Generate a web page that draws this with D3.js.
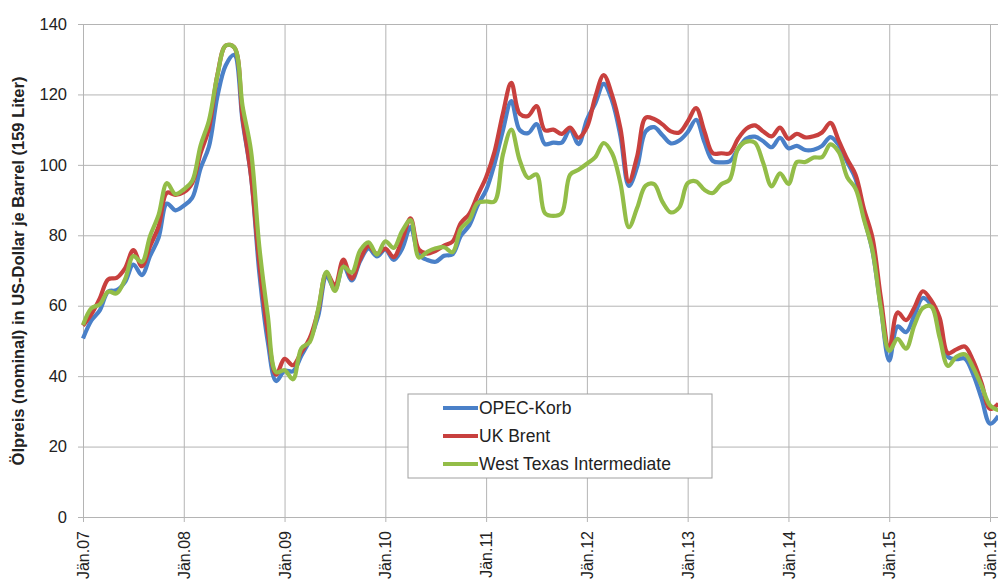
<!DOCTYPE html>
<html>
<head>
<meta charset="utf-8">
<script src="https://cdn.jsdelivr.net/npm/d3@7"></script>
<style>
  body { margin: 0; background: #fff; }
  text { font-family: "Liberation Sans", Arial, sans-serif; fill: #222; }
</style>
</head>
<body>
<script>
// monthly averages, Jan 2007 .. Feb 2016
var opec = [50.7, 55.8, 58.7, 64.0, 64.4, 66.7, 71.7, 68.7, 74.2, 79.3, 89.0, 87.1,
            88.4, 90.6, 99.0, 105.2, 119.4, 128.3, 131.2, 112.4, 96.9, 69.2, 49.8, 38.6,
            41.5, 41.4, 45.8, 50.2, 57.0, 68.4, 64.6, 71.4, 67.2, 72.7, 76.3, 74.0,
            76.0, 73.0, 76.2, 82.3, 74.5, 73.0, 72.5, 74.2, 74.6, 79.9, 82.8, 88.6,
            92.8, 100.3, 109.8, 118.1, 109.9, 109.0, 111.6, 105.9, 106.3, 106.3, 109.9, 105.9,
            112.8, 117.5, 123.0, 118.2, 108.1, 94.0, 99.6, 109.5, 110.7, 108.4, 106.1, 106.9,
            109.3, 112.8, 106.4, 101.1, 100.7, 101.0, 104.5, 107.5, 108.0, 106.7, 105.0, 107.7,
            104.7, 105.4, 104.2, 104.3, 105.4, 107.9, 105.6, 100.8, 96.0, 85.1, 75.6, 59.5,
            44.4, 54.1, 52.5, 57.3, 62.2, 60.2, 54.2, 45.5, 44.8, 45.0, 40.5, 33.6,
            26.5, 28.7];
var brent = [54.3, 57.6, 62.1, 67.5, 67.9, 70.6, 75.8, 71.2, 77.0, 82.5, 92.1, 91.5,
             92.2, 94.8, 103.3, 110.4, 125.5, 133.9, 133.4, 113.4, 97.0, 71.9, 52.5, 40.4,
             44.9, 43.1, 46.8, 50.8, 58.6, 69.3, 65.8, 73.1, 67.7, 73.2, 77.0, 74.7,
             76.2, 73.8, 78.8, 84.8, 75.9, 74.8, 75.6, 77.1, 78.2, 83.5, 86.1, 91.4,
             96.5, 103.7, 114.6, 123.3, 114.5, 113.9, 116.7, 109.8, 110.0, 108.8, 110.6, 107.7,
             110.7, 119.3, 125.5, 119.8, 110.3, 95.2, 102.6, 113.4, 113.0, 111.5, 109.5, 109.2,
             112.3, 116.1, 109.5, 103.3, 103.3, 103.3, 107.4, 110.3, 111.2, 109.5, 108.1, 110.6,
             107.4, 108.8, 107.8, 108.1, 109.2, 111.9, 106.8, 101.6, 97.1, 87.4, 79.4, 62.3,
             47.8, 58.1, 55.9, 59.5, 64.1, 61.5, 56.6, 46.5, 47.6, 48.4, 44.3, 38.0,
             30.7, 32.2];
var wti = [54.5, 59.3, 60.4, 64.0, 63.5, 67.5, 74.1, 72.4, 79.9, 85.8, 94.8, 91.7,
           93.0, 95.4, 105.5, 112.6, 125.4, 133.9, 133.4, 116.7, 104.1, 76.6, 57.3, 41.1,
           41.7, 39.1, 47.9, 49.7, 59.0, 69.6, 64.2, 71.1, 69.4, 75.7, 78.0, 74.5,
           78.3, 76.4, 81.2, 84.3, 73.7, 75.3, 76.3, 76.6, 75.2, 81.9, 84.3, 89.2,
           89.6, 89.6, 102.9, 110.0, 101.3, 96.3, 97.3, 86.3, 85.5, 86.3, 97.2, 98.6,
           100.3, 102.2, 106.2, 103.3, 94.7, 82.3, 87.9, 94.1, 94.5, 89.5, 86.5, 87.9,
           94.8, 95.3, 92.9, 92.0, 94.5, 95.8, 104.6, 106.6, 106.3, 100.5, 93.9, 97.6,
           94.6, 100.8, 100.8, 102.1, 102.2, 105.8, 103.6, 96.5, 93.2, 84.4, 75.8, 59.3,
           47.2, 50.6, 47.8, 54.5, 59.3, 59.8, 51.0, 42.9, 45.5, 46.2, 42.4, 37.2,
           31.7, 30.3];

var seriesNames = ["OPEC-Korb", "UK Brent", "West Texas Intermediate"];
var colors = ["#4a80c8", "#c8403e", "#93bd48"];
var xLabels = ["Jän.07", "Jän.08", "Jän.09", "Jän.10", "Jän.11", "Jän.12", "Jän.13", "Jän.14", "Jän.15", "Jän.16"];
var yTicks = [0, 20, 40, 60, 80, 100, 120, 140];

var w = 998, h = 579;
var pLeft = 83, pRight = 990, pTop = 24, pBottom = 517;

var svg = d3.select("body").append("svg")
    .attr("width", w)
    .attr("height", h);

// x = months since Jan 2007
var x = d3.scaleLinear().domain([0, 108]).range([pLeft, pRight]);
var y = d3.scaleLinear().domain([0, 140]).range([pBottom, pTop]);

// horizontal grid
svg.append("g")
    .attr("transform", "translate(" + pLeft + ",0)")
    .call(d3.axisLeft(y).tickValues(yTicks).tickSize(-(w - pLeft)).tickSizeOuter(0).tickPadding(16))
    .call(function(g) {
      g.select(".domain").remove();
      g.selectAll(".tick line").attr("stroke", "#b4b4b4").attr("x1", -5);
      g.selectAll(".tick text").attr("font-size", 16.5).attr("fill", "#222")
        .style("font-family", "'Liberation Sans', Arial, sans-serif");
    });

// vertical grid + rotated month labels
var xTickVals = xLabels.map(function(d, i) { return i * 12; });
svg.append("g")
    .attr("transform", "translate(0," + pBottom + ")")
    .call(d3.axisBottom(x).tickValues(xTickVals).tickSize(-(pBottom - pTop)).tickSizeOuter(0)
      .tickFormat(function(d, i) { return xLabels[i]; }))
    .call(function(g) {
      g.select(".domain").remove();
      g.selectAll(".tick line").attr("stroke", "#b4b4b4").attr("y1", 5);
      g.selectAll(".tick text")
        .attr("font-size", 16)
        .attr("fill", "#222")
        .style("font-family", "'Liberation Sans', Arial, sans-serif")
        .attr("transform", "rotate(-90)")
        .attr("text-anchor", "end")
        .attr("x", -14)
        .attr("y", 0)
        .attr("dy", "0.35em");
    });

// y axis title
svg.append("text")
    .attr("transform", "translate(24,271) rotate(-90)")
    .attr("text-anchor", "middle")
    .attr("font-size", 16.5)
    .attr("font-weight", "bold")
    .text("Ölpreis (nominal)  in US-Dollar je Barrel (159 Liter)");

var line = d3.line()
    .x(function(d, i) { return x(i); })
    .y(function(d) { return y(d); })
    .curve(d3.curveCatmullRom);

[opec, brent, wti].forEach(function(s, k) {
  svg.append("path")
      .datum(s)
      .attr("fill", "none")
      .attr("stroke", colors[k])
      .attr("stroke-width", 4.2)
      .attr("stroke-linejoin", "round")
      .attr("d", line);
});

// legend
var lg = svg.append("g").attr("transform", "translate(408,394)");
lg.append("rect")
    .attr("width", 304).attr("height", 84)
    .attr("fill", "#fff").attr("stroke", "#a0a0a0");
seriesNames.forEach(function(n, k) {
  var yy = 14 + k * 28;
  lg.append("line")
      .attr("x1", 35).attr("x2", 70).attr("y1", yy).attr("y2", yy)
      .attr("stroke", colors[k]).attr("stroke-width", 4);
  lg.append("text")
      .attr("x", 71).attr("y", yy).attr("dy", "0.35em")
      .attr("font-size", 17.5)
      .text(n);
});
</script>
</body>
</html>
